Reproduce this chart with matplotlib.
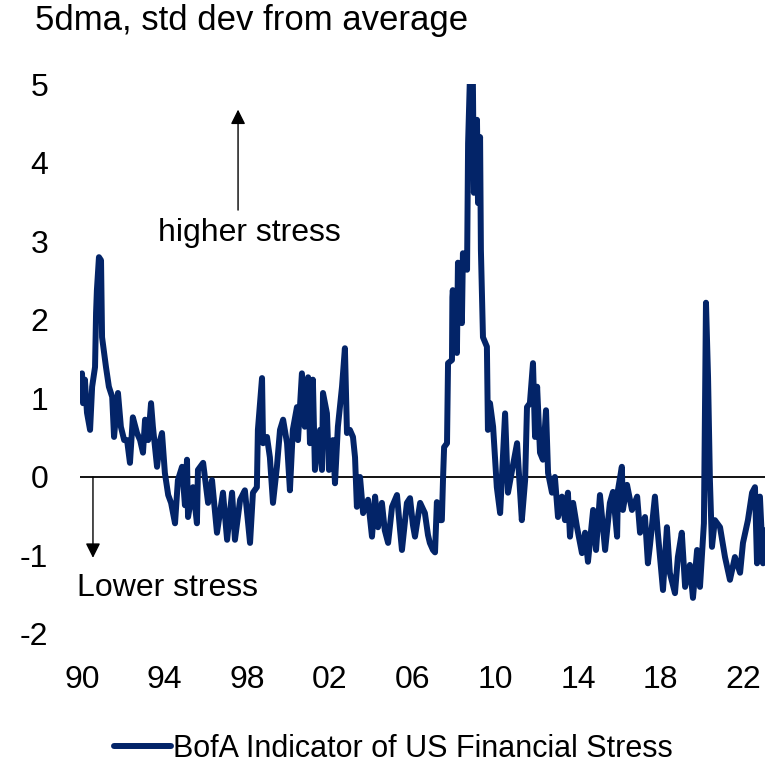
import matplotlib
matplotlib.use("Agg")
import matplotlib.pyplot as plt

plt.rcParams["axes.unicode_minus"] = False

FONT = "Liberation Sans"

# BofA Indicator of US Financial Stress (5dma, std dev from average)
years = [
    1990.00, 1990.05, 1990.14, 1990.24, 1990.39, 1990.49, 1990.63, 1990.68, 1990.72, 1990.82,
    1990.92, 1990.97, 1991.02, 1991.16, 1991.30, 1991.46, 1991.55, 1991.74, 1991.88, 1992.04,
    1992.18, 1992.32, 1992.46, 1992.66, 1992.81, 1992.95, 1993.05, 1993.20, 1993.34, 1993.43,
    1993.63, 1993.78, 1993.87, 1994.01, 1994.17, 1994.31, 1994.50, 1994.64, 1994.84, 1994.98,
    1995.08, 1995.13, 1995.37, 1995.56, 1995.61, 1995.86, 1996.10, 1996.29, 1996.53, 1996.82,
    1997.02, 1997.26, 1997.40, 1997.65, 1997.88, 1998.13, 1998.27, 1998.46, 1998.51, 1998.71,
    1998.76, 1998.95, 1999.09, 1999.24, 1999.43, 1999.58, 1999.73, 1999.92, 2000.06, 2000.20,
    2000.40, 2000.45, 2000.64, 2000.78, 2000.94, 2001.03, 2001.17, 2001.27, 2001.42, 2001.52,
    2001.61, 2001.66, 2001.85, 2001.95, 2002.14, 2002.24, 2002.38, 2002.58, 2002.72, 2002.82,
    2002.96, 2003.11, 2003.21, 2003.30, 2003.45, 2003.60, 2003.84, 2004.03, 2004.18, 2004.32,
    2004.51, 2004.65, 2004.81, 2005.00, 2005.24, 2005.39, 2005.48, 2005.72, 2005.87, 2006.01,
    2006.11, 2006.36, 2006.59, 2006.74, 2006.83, 2006.98, 2007.08, 2007.17, 2007.32, 2007.41,
    2007.47, 2007.52, 2007.66, 2007.71, 2007.90, 2007.92, 2007.94, 2008.14, 2008.19, 2008.38,
    2008.43, 2008.63, 2008.68, 2008.77, 2008.91, 2008.96, 2009.11, 2009.16, 2009.26, 2009.30,
    2009.40, 2009.59, 2009.64, 2009.74, 2009.89, 2010.07, 2010.23, 2010.47, 2010.61, 2010.81,
    2011.05, 2011.28, 2011.44, 2011.53, 2011.67, 2011.82, 2011.92, 2012.02, 2012.16, 2012.30,
    2012.45, 2012.55, 2012.74, 2012.88, 2013.03, 2013.22, 2013.37, 2013.51, 2013.61, 2013.76,
    2013.95, 2014.19, 2014.34, 2014.48, 2014.73, 2014.87, 2015.06, 2015.31, 2015.54, 2015.69,
    2015.89, 2015.93, 2016.12, 2016.17, 2016.37, 2016.61, 2016.86, 2017.00, 2017.24, 2017.38,
    2017.48, 2017.72, 2017.86, 2018.11, 2018.30, 2018.44, 2018.69, 2018.83, 2019.02, 2019.18,
    2019.41, 2019.56, 2019.76, 2019.90, 2020.09, 2020.19, 2020.29, 2020.38, 2020.48, 2020.62,
    2020.87, 2021.11, 2021.35, 2021.59, 2021.84, 2021.98, 2022.22, 2022.42, 2022.56, 2022.66,
    2022.80, 2022.95, 2023.00,
]
stress = [
    1.32, 0.94, 1.24, 0.82, 0.60, 1.15, 1.40, 2.09, 2.38, 2.80,
    2.76, 1.78, 1.68, 1.40, 1.15, 1.02, 0.51, 1.07, 0.64, 0.47,
    0.47, 0.18, 0.76, 0.56, 0.47, 0.31, 0.73, 0.47, 0.94, 0.64,
    0.13, 0.47, 0.56, 0.05, -0.23, -0.33, -0.59, -0.04, 0.13, -0.36,
    0.22, -0.51, -0.13, -0.59, 0.09, 0.18, -0.33, -0.04, -0.71, -0.20,
    -0.80, -0.20, -0.80, -0.29, -0.17, -0.84, -0.20, -0.13, 0.60, 1.26,
    0.43, 0.51, 0.25, -0.33, 0.13, 0.60, 0.73, 0.43, -0.17, 0.60,
    0.89, 0.47, 1.32, 0.64, 1.27, 0.43, 1.24, 0.09, 0.47, 0.60,
    0.09, 1.07, 0.81, 0.09, 0.47, -0.08, 0.64, 1.15, 1.64, 0.56,
    0.60, 0.51, 0.25, -0.38, 0.00, -0.46, -0.29, -0.76, -0.25, -0.64,
    -0.33, -0.68, -0.84, -0.38, -0.23, -0.68, -0.93, -0.33, -0.27, -0.61,
    -0.76, -0.33, -0.46, -0.74, -0.84, -0.93, -0.96, -0.32, -0.55, -0.55,
    0.00, 0.38, 0.43, 1.45, 1.49, 2.29, 2.38, 1.58, 2.73, 1.96,
    2.85, 2.64, 4.25, 5.10, 5.10, 3.62, 4.55, 3.49, 4.33, 2.89,
    1.78, 1.66, 0.60, 0.94, 0.64, -0.13, -0.46, 0.81, -0.20, 0.09,
    0.43, -0.55, -0.04, 0.89, 0.94, 1.45, 0.51, 1.15, 0.31, 0.22,
    0.85, 0.05, -0.20, 0.00, -0.51, -0.25, -0.55, -0.20, -0.76, -0.33,
    -0.64, -0.97, -0.71, -1.08, -0.42, -0.93, -0.23, -0.93, -0.33, -0.19,
    -0.76, -0.17, 0.13, -0.42, -0.10, -0.42, -0.25, -0.71, -0.51, -1.10,
    -0.87, -0.25, -0.71, -1.44, -0.64, -1.22, -1.48, -1.02, -0.71, -1.40,
    -1.12, -1.54, -0.93, -1.40, -0.59, 2.22, 1.27, -0.04, -0.89, -0.55,
    -0.64, -1.02, -1.31, -1.02, -1.22, -0.84, -0.55, -0.20, -0.13, -1.10,
    -0.25, -1.10, -0.68,
]

tick_years = [1990, 1994, 1998, 2002, 2006, 2010, 2014, 2018, 2022]
tick_labels = ["90", "94", "98", "02", "06", "10", "14", "18", "22"]
y_ticks = [-2, -1, 0, 1, 2, 3, 4, 5]

NAVY = "#032468"
FS = 23

fig = plt.figure(figsize=(7.73, 7.68), dpi=100)
ax = fig.add_axes([0.1035, 0.1745, 0.886, 0.7155])

ax.plot(years, stress, color=NAVY, lw=4.3, solid_joinstyle="round",
        solid_capstyle="round", label="BofA Indicator of US Financial Stress",
        zorder=3)
ax.axhline(0, color="black", lw=1.3, zorder=2)

ax.set_xlim(1989.903, 2023.04)
ax.set_ylim(-2, 5)
ax.set_xticks(tick_years)
ax.set_xticklabels(tick_labels)
ax.set_yticks(y_ticks)
ax.tick_params(axis="both", length=0, labelsize=FS)
ax.tick_params(axis="y", pad=23)
ax.tick_params(axis="x", pad=22)
for lab in ax.get_xticklabels() + ax.get_yticklabels():
    lab.set_family(FONT)
for s in ax.spines.values():
    s.set_visible(False)

# Direction annotations
arrow = dict(arrowstyle="-|>", color="black", lw=1.0, mutation_scale=22,
             shrinkA=0, shrinkB=0)
ax.annotate("", xy=(1997.55, 4.68), xytext=(1997.55, 3.40), arrowprops=arrow)
ax.text(1998.08, 3.11, "higher stress", ha="center", va="center",
        fontsize=FS, family=FONT)
ax.annotate("", xy=(1990.53, -1.03), xytext=(1990.53, 0.0), arrowprops=arrow)
ax.text(1994.16, -1.41, "Lower stress", ha="center", va="center",
        fontsize=FS, family=FONT)

fig.text(35 / 773, 1 - 30 / 768, "5dma, std dev from average",
         ha="left", va="baseline", fontsize=25, family=FONT)

leg = fig.legend(loc="center", bbox_to_anchor=(0.509, 1 - 749 / 768),
                 frameon=False, prop={"family": FONT, "size": 22},
                 handlelength=1.85, handletextpad=0.07, borderaxespad=0)

fig.savefig("out.png", dpi=100)
